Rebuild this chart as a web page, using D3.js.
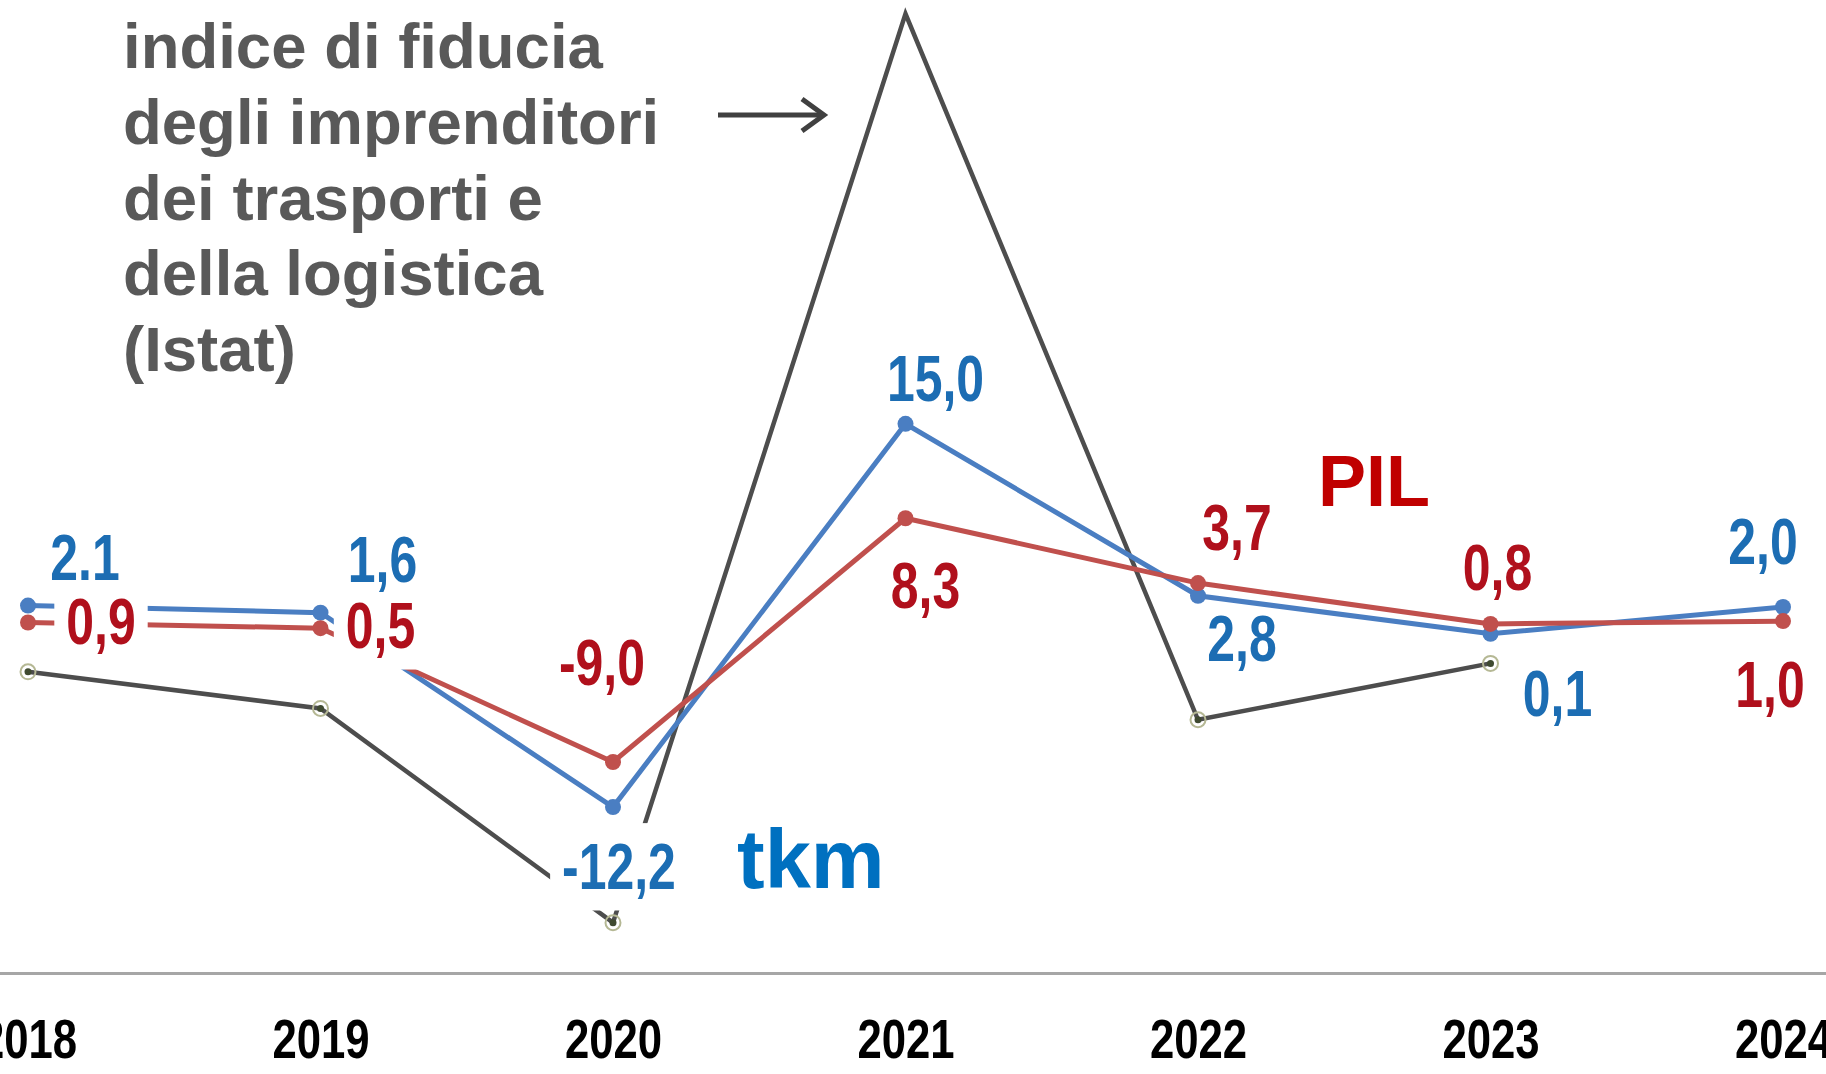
<!DOCTYPE html>
<meta charset="utf-8">
<style>

body {
  margin: 0;
  background: #fff;
}

svg {
  display: block;
}

.title {
  font-family: "Liberation Sans", Arial, sans-serif;
  font-weight: bold;
  font-size: 63.5px;
  fill: #595959;
}

.val {
  font-family: "Liberation Sans", Arial, sans-serif;
  font-weight: bold;
  font-size: 64px;
}

.axis--x text {
  font-family: "Liberation Sans", Arial, sans-serif;
  font-weight: bold;
  font-size: 56px;
  fill: #000;
}

</style>
<svg width="1826" height="1074"></svg>
<script src="https://d3js.org/d3.v7.min.js"></script>
<script>

var years = ["2018", "2019", "2020", "2021", "2022", "2023", "2024"];
var tkm = [2.1, 1.6, -12.2, 15.0, 2.8, 0.1, 2.0];
var pil = [0.9, 0.5, -9.0, 8.3, 3.7, 0.8, 1.0];
var fiducia = [-2.6, -5.2, -20.4, 44.1, -6.0, -2.0, null];
var tkmLabels = ["2.1", "1,6", "-12,2", "15,0", "2,8", "0,1", "2,0"];
var pilLabels = ["0,9", "0,5", "-9,0", "8,3", "3,7", "0,8", "1,0"];
var titleLines = ["indice di fiducia", "degli imprenditori", "dei trasporti e", "della logistica", "(Istat)"];

// where each value label sits, relative to its point
var tkmOffsets = [[57, -26], [62, -31], [6, 82], [30, -23], [44, 65], [67, 82], [-20, -43]];
var pilOffsets = [[73, 21], [60, 20], [-11, -77], [20, 90], [39, -33], [7, -34], [-13, 86]];
// labels that sit on a white box and hide the lines below
var tkmBg = [false, false, true, false, false, false, false];
var pilBg = [true, true, false, false, false, false, false];

var svg = d3.select("svg"),
    width = +svg.attr("width"),
    height = +svg.attr("height"),
    axisY = 973.5,
    squeeze = 0.78;

var x = d3.scalePoint().domain(years).range([28, 1783]),
    y = d3.scaleLinear().domain([-25, 45]).range([987.45, 1.15]);

svg.append("rect")
    .attr("width", width)
    .attr("height", height)
    .attr("fill", "#fff");

// the original plot area is cut just below the top edge
svg.append("clipPath")
    .attr("id", "plotclip")
  .append("rect")
    .attr("x", 0)
    .attr("y", 24)
    .attr("width", width)
    .attr("height", height);

// axis line across the whole picture
svg.append("line")
    .attr("x1", 0)
    .attr("x2", width)
    .attr("y1", axisY)
    .attr("y2", axisY)
    .attr("stroke", "#a6a6a6")
    .attr("stroke-width", 3);

var xAxis = svg.append("g")
    .attr("class", "axis axis--x")
    .attr("transform", "translate(0," + axisY + ")")
    .call(d3.axisBottom(x).tickSize(0).tickPadding(45));

xAxis.select(".domain").remove();
xAxis.selectAll("text")
    .attr("transform", "scale(" + squeeze + ",1)");

function series(values) {
  return years.map(function(yr, i) { return {year: yr, value: values[i], i: i}; });
}

var line = d3.line()
    .defined(function(d) { return d.value != null; })
    .x(function(d) { return x(d.year); })
    .y(function(d) { return y(d.value); });

var grayData = series(fiducia).filter(function(d) { return d.value != null; }),
    tkmData = series(tkm),
    pilData = series(pil);

// confidence index
svg.append("path")
    .datum(grayData)
    .attr("fill", "none")
    .attr("stroke", "#4d4d4d")
    .attr("stroke-width", 4.5)
    .attr("stroke-linejoin", "miter")
    .attr("d", line);

var gdots = svg.append("g").attr("clip-path", "url(#plotclip)");

gdots.selectAll(".gdot")
    .data(grayData)
  .enter().append("circle")
    .attr("class", "gdot")
    .attr("cx", function(d) { return x(d.year); })
    .attr("cy", function(d) { return y(d.value); })
    .attr("r", 7.5)
    .attr("fill", "none")
    .attr("stroke", "#b5b894")
    .attr("stroke-width", 2);

gdots.selectAll(".gcore")
    .data(grayData)
  .enter().append("circle")
    .attr("class", "gcore")
    .attr("cx", function(d) { return x(d.year); })
    .attr("cy", function(d) { return y(d.value); })
    .attr("r", 3.5)
    .attr("fill", "#3f4a30");

function drawSeries(data, color) {
  svg.append("path")
      .datum(data)
      .attr("fill", "none")
      .attr("stroke", color)
      .attr("stroke-width", 5)
      .attr("d", line);

  svg.append("g").selectAll("circle")
      .data(data)
    .enter().append("circle")
      .attr("cx", function(d) { return x(d.year); })
      .attr("cy", function(d) { return y(d.value); })
      .attr("r", 8)
      .attr("fill", color);
}

drawSeries(tkmData, "#4a7ec2");
drawSeries(pilData, "#c0504d");

// value labels: boxes first, text on top
var labels = [];
tkmData.forEach(function(d, i) {
  labels.push({x: x(d.year) + tkmOffsets[i][0], y: y(d.value) + tkmOffsets[i][1],
               text: tkmLabels[i], color: "#1c6db3", bg: tkmBg[i]});
});
pilData.forEach(function(d, i) {
  labels.push({x: x(d.year) + pilOffsets[i][0], y: y(d.value) + pilOffsets[i][1],
               text: pilLabels[i], color: "#b0101c", bg: pilBg[i]});
});

var boxLayer = svg.append("g"),
    textLayer = svg.append("g");

labels.forEach(function(l) {
  var t = textLayer.append("g")
      .attr("transform", "translate(" + l.x + "," + l.y + ")")
    .append("text")
      .attr("class", "val")
      .attr("text-anchor", "middle")
      .attr("transform", "scale(" + squeeze + ",1)")
      .attr("fill", l.color)
      .text(l.text);

  if (l.bg) {
    var b = t.node().getBBox();
    boxLayer.append("rect")
        .attr("x", l.x + b.x * squeeze - 12)
        .attr("y", l.y + b.y - 8)
        .attr("width", b.width * squeeze + 24)
        .attr("height", b.height + 16)
        .attr("fill", "#fff");
  }
});

// series names
svg.append("text")
    .attr("x", 737)
    .attr("y", 888)
    .attr("font-family", "Liberation Sans, Arial, sans-serif")
    .attr("font-weight", "bold")
    .attr("font-size", 83)
    .attr("fill", "#0070c0")
    .text("tkm");

svg.append("text")
    .attr("x", 1318)
    .attr("y", 506)
    .attr("font-family", "Liberation Sans, Arial, sans-serif")
    .attr("font-weight", "bold")
    .attr("font-size", 72)
    .attr("fill", "#c00000")
    .text("PIL");

// note on the confidence index
svg.append("g").selectAll("text")
    .data(titleLines)
  .enter().append("text")
    .attr("class", "title")
    .attr("x", 123)
    .attr("y", function(d, i) { return 68 + i * 75.8; })
    .text(function(d) { return d; });

svg.append("line")
    .attr("x1", 718)
    .attr("x2", 822)
    .attr("y1", 115)
    .attr("y2", 115)
    .attr("stroke", "#404040")
    .attr("stroke-width", 5);

svg.append("path")
    .attr("d", "M802,99L824,115L802,131")
    .attr("fill", "none")
    .attr("stroke", "#404040")
    .attr("stroke-width", 5);

</script>
